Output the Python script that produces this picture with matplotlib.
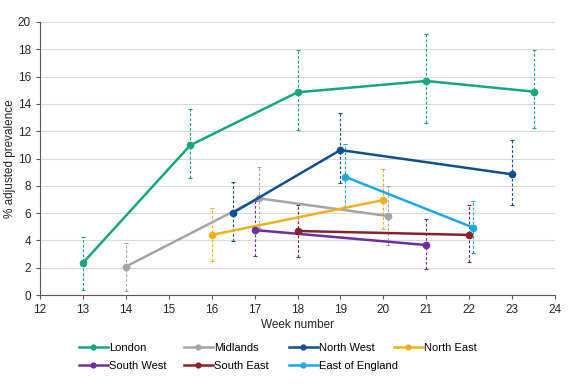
import matplotlib.pyplot as plt
import matplotlib.lines as mlines

plt.rcParams['font.family'] = ['Liberation Sans', 'DejaVu Sans']

# week, value, lower, upper
london_x = [13, 15.5, 18, 21, 23.5]
london_y = [2.35, 10.97, 14.85, 15.68, 14.9]
london_lo = [0.4, 8.55, 12.1, 12.58, 12.26]
london_hi = [4.25, 13.63, 17.95, 19.1, 17.95]

midlands_x = [14, 17.1, 20.1]
midlands_y = [2.08, 7.08, 5.79]
midlands_lo = [0.3, 4.9, 3.66]
midlands_hi = [3.8, 9.35, 7.98]

northwest_x = [16.5, 19, 23]
northwest_y = [6.03, 10.62, 8.84]
northwest_lo = [3.96, 8.23, 6.59]
northwest_hi = [8.25, 13.3, 11.35]

northeast_x = [16, 20]
northeast_y = [4.4, 6.96]
northeast_lo = [2.49, 4.81]
northeast_hi = [6.35, 9.2]

southwest_x = [17, 21]
southwest_y = [4.76, 3.66]
southwest_lo = [2.85, 1.88]
southwest_hi = [6.9, 5.54]

southeast_x = [18, 22]
southeast_y = [4.69, 4.4]
southeast_lo = [2.8, 2.44]
southeast_hi = [6.6, 6.6]

eoe_x = [19.1, 22.1]
eoe_y = [8.67, 4.93]
eoe_lo = [6.47, 3.1]
eoe_hi = [11.04, 6.9]

series = [
    ("London", london_x, london_y, london_lo, london_hi, "#17a584"),
    ("Midlands", midlands_x, midlands_y, midlands_lo, midlands_hi, "#a5a5a5"),
    ("North West", northwest_x, northwest_y, northwest_lo, northwest_hi, "#124f8e"),
    ("North East", northeast_x, northeast_y, northeast_lo, northeast_hi, "#eeb11e"),
    ("South West", southwest_x, southwest_y, southwest_lo, southwest_hi, "#6e2f9e"),
    ("South East", southeast_x, southeast_y, southeast_lo, southeast_hi, "#86222f"),
    ("East of England", eoe_x, eoe_y, eoe_lo, eoe_hi, "#1ba9e3"),
]

fig = plt.figure(figsize=(5.81, 3.89), dpi=100)
ax = fig.add_axes([40 / 581, 1 - 295 / 389, 515 / 581, 273 / 389])

handles = {}
for name, xs, ys, lo, hi, col in series:
    yerr = [[y - l for y, l in zip(ys, lo)], [h - y for y, h in zip(ys, hi)]]
    eb = ax.errorbar(xs, ys, yerr=yerr, fmt='none', ecolor=col, elinewidth=0.8,
                     capsize=1.5, capthick=0.8, zorder=2)
    eb[2][0].set_linestyle((0, (2.5, 1.8)))
    ax.plot(xs, ys, color=col, lw=1.8, marker='o', ms=4.5, zorder=3)
    handles[name] = mlines.Line2D([], [], color=col, lw=1.8, marker='o', ms=3.5)

ax.set_xlim(12, 24)
ax.set_ylim(0, 20)
ax.set_xticks(range(12, 25))
ax.set_yticks(range(0, 21, 2))
ax.grid(axis='y', color='#d9d9d9', lw=0.8)
ax.set_axisbelow(True)
for s in ['top', 'right']:
    ax.spines[s].set_visible(False)
for s in ['left', 'bottom']:
    ax.spines[s].set_color('#595959')
    ax.spines[s].set_linewidth(0.8)
ax.tick_params(axis='both', labelsize=8.5, colors='#595959', labelcolor='#262626',
               length=3, width=0.8)
ax.set_xlabel('Week number', fontsize=8.5, color='#262626', labelpad=2)
ax.set_ylabel('% adjusted prevalence', fontsize=8.5, color='#262626', labelpad=1.5)

# legend laid out as four equal-width columns, filled row by row
legend_cols = [["London", "South West"], ["Midlands", "South East"],
               ["North West", "East of England"], ["North East"]]
for i, names in enumerate(legend_cols):
    fig.legend([handles[n] for n in names], names, loc='upper left',
               bbox_to_anchor=((79 + 105 * i) / 581, 1 - 343 / 389),
               frameon=False, fontsize=8, handlelength=2.6, handletextpad=0.1,
               labelspacing=0.75, borderpad=0, borderaxespad=0)

fig.savefig('out.png', dpi=100)
